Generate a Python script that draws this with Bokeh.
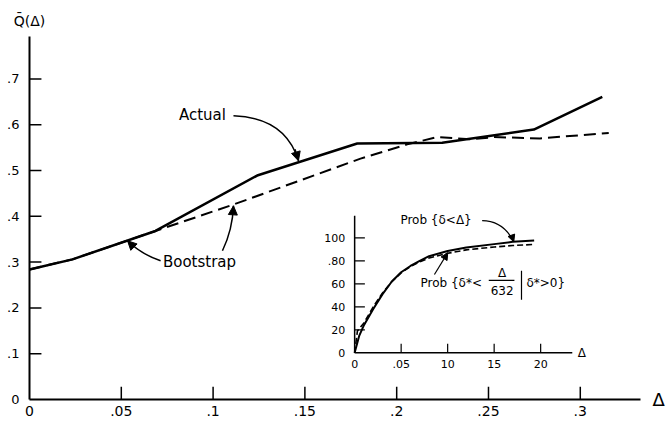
from bokeh.plotting import figure
from bokeh.models import Range1d, FixedTicker, Arrow, NormalHead, LinearAxis
from bokeh.core.properties import value
from bokeh.embed import file_html
from bokeh.resources import INLINE

# ---------------- data: main plot ----------------
actual_x = [0.0, 0.0234, 0.0686, 0.124, 0.1785, 0.2248, 0.2747, 0.312]
actual_y = [0.284, 0.306, 0.368, 0.489, 0.559, 0.5605, 0.5895, 0.661]

boot_x = [0.0, 0.0234, 0.0686, 0.1113, 0.1803, 0.2057, 0.222, 0.24, 0.253, 0.278, 0.3155]
boot_y = [0.284, 0.306, 0.368, 0.426, 0.526, 0.557, 0.573, 0.568, 0.573, 0.570, 0.582]

x_ticks = [0.0, 0.05, 0.1, 0.15, 0.2, 0.25, 0.3]
x_tick_labels = ["0", ".05", ".1", ".15", ".2", ".25", ".3"]
y_ticks = [0.0, 0.1, 0.2, 0.3, 0.4, 0.5, 0.6, 0.7]
y_tick_labels = ["0", ".1", ".2", ".3", ".4", ".5", ".6", ".7"]
y_title = "Q\u0304(\u0394)"
x_title = "\u0394"

# ---------------- data: inset ----------------
prob_x = [0, 0.5, 1, 2, 3, 4, 5, 6, 7, 8, 10, 12, 15, 17, 19.3]
prob_y = [0, 15, 24, 38, 51, 62, 70, 75.5, 80, 84, 88.5, 91.5, 94.5, 96.5, 97.7]

probstar_x = [0, 0.3, 1, 2, 3, 4, 5, 6, 7, 8, 10, 12, 15, 17, 19.3]
probstar_y = [0, 19, 26, 40, 52, 62, 69.5, 75, 79, 82.5, 86.5, 89.5, 92, 93.3, 94.2]

inset_x_ticks = [0, 5, 10, 15, 20]
inset_x_tick_labels = ["0", ".05", "10", "15", "20"]
inset_y_ticks = [0, 20, 40, 60, 80, 100]
inset_y_tick_labels = ["0", "20", "40", "60", ".80", "100"]

# ---------------- layout constants ----------------
X_END, Y_END = 0.3328, 0.7926
INSET_X0, INSET_Y0 = 0.1771, 0.102      # inset origin in main data coords
IX_PER_X, IY_PER_Y = 197.4, 398.3        # inset units per main unit
INSET_X_AXIS_END, INSET_Y_AXIS_END = 23.4, 119.1
INSET_XTICK_LEN, INSET_YTICK_LEN = 7.8, 1.1
MAIN_XTICK_LEN, MAIN_YTICK_LEN = 0.028, 0.0065

FONT = value("DejaVu Sans")

p = figure(width=667, height=422, output_backend="svg", toolbar_location=None,
           x_range=Range1d(0, X_END), y_range=Range1d(0, Y_END),
           min_border_left=29, min_border_right=27, min_border_top=36,
           min_border_bottom=23)
p.outline_line_color = None
p.grid.visible = False
p.background_fill_color = "white"
p.border_fill_color = "white"

p.extra_x_ranges = {"ix": Range1d((0 - INSET_X0) * IX_PER_X, (X_END - INSET_X0) * IX_PER_X)}
p.extra_y_ranges = {"iy": Range1d((0 - INSET_Y0) * IY_PER_Y, (Y_END - INSET_Y0) * IY_PER_Y)}

for ax in (p.xaxis[0], p.yaxis[0]):
    ax.axis_line_width = 2
    ax.axis_line_color = "black"
    ax.major_tick_in = 0
    ax.major_tick_out = 0
    ax.major_tick_line_color = None
    ax.minor_tick_line_color = None
    ax.major_label_text_font = "DejaVu Sans"
    ax.major_label_text_color = "black"

p.xaxis[0].ticker = FixedTicker(ticks=x_ticks)
p.xaxis[0].major_label_overrides = dict(zip(x_ticks, x_tick_labels))
p.xaxis[0].major_label_text_font_size = "14px"
p.xaxis[0].major_label_standoff = 6

p.yaxis[0].ticker = FixedTicker(ticks=y_ticks)
p.yaxis[0].major_label_overrides = dict(zip(y_ticks, y_tick_labels))
p.yaxis[0].major_label_text_font_size = "13px"
p.yaxis[0].major_label_standoff = 10

# title-like axes: Q(Δ) above the y axis, Δ at the end of the x axis
top_ax = LinearAxis(ticker=FixedTicker(ticks=[0.0]), major_label_overrides={0.0: y_title},
                    axis_line_color=None, major_tick_line_color=None,
                    minor_tick_line_color=None, major_label_standoff=8,
                    major_label_text_font="DejaVu Sans", major_label_text_font_size="14px",
                    major_label_text_color="black", major_tick_in=0, major_tick_out=0)
p.add_layout(top_ax, "above")
right_ax = LinearAxis(ticker=FixedTicker(ticks=[0.0]), major_label_overrides={0.0: x_title},
                      axis_line_color=None, major_tick_line_color=None,
                      minor_tick_line_color=None, major_label_standoff=12,
                      major_label_text_font="DejaVu Sans", major_label_text_font_size="18px",
                      major_label_text_color="black", major_tick_in=0, major_tick_out=0)
p.add_layout(right_ax, "right")

# inward tick marks of the main axes
xt_main = x_ticks[1:]
p.segment(x0=xt_main, y0=[0] * len(xt_main), x1=xt_main, y1=[MAIN_XTICK_LEN] * len(xt_main),
          line_color="black", line_width=1.5)
yt_main = y_ticks[1:]
p.segment(x0=[0] * len(yt_main), y0=yt_main, x1=[MAIN_YTICK_LEN] * len(yt_main), y1=yt_main,
          line_color="black", line_width=1.5)

# main curves
p.line(actual_x, actual_y, line_color="black", line_width=2.5)
p.line(boot_x, boot_y, line_color="black", line_width=2, line_dash="12 6")

# main annotations
p.text(x=[0.0942], y=[0.6216], text=["Actual"], text_font=FONT,
       text_font_size=value("15px"), text_align="center", text_baseline="middle",
       text_color="black")
p.text(x=[0.0926], y=[0.3006], text=["Bootstrap"], text_font=FONT,
       text_font_size=value("15px"), text_align="center", text_baseline="middle",
       text_color="black")

arrow_x0 = [0.1111, 0.0714, 0.1051]
arrow_y0 = [0.6194, 0.3028, 0.3247]
arrow_cx = [0.1394, 0.0605, 0.1106]
arrow_cy = [0.6151, 0.3181, 0.3705]
arrow_x1 = [0.1465, 0.0534, 0.1111]
arrow_y1 = [0.5212, 0.3465, 0.4229]
head_x0 = [0.1446, 0.0556, 0.1108]
head_y0 = [0.5463, 0.3378, 0.4055]
p.quadratic(x0=arrow_x0, y0=arrow_y0, x1=arrow_x1, y1=arrow_y1, cx=arrow_cx, cy=arrow_cy,
            line_color="black", line_width=1.5)
for xs, ys, xe, ye in zip(head_x0, head_y0, arrow_x1, arrow_y1):
    p.add_layout(Arrow(x_start=xs, y_start=ys, x_end=xe, y_end=ye, line_width=1.5,
                       end=NormalHead(size=9, fill_color="black", line_color="black")))

# ---------------- inset ----------------
I = dict(x_range_name="ix", y_range_name="iy")
p.segment(x0=[0, 0], y0=[0, 0], x1=[INSET_X_AXIS_END, 0], y1=[0, INSET_Y_AXIS_END],
          line_color="black", line_width=1.5, **I)
xt = inset_x_ticks[1:]
p.segment(x0=xt, y0=[0] * len(xt), x1=xt, y1=[INSET_XTICK_LEN] * len(xt),
          line_color="black", line_width=1.2, **I)
yt = inset_y_ticks[1:]
p.segment(x0=[0] * len(yt), y0=yt, x1=[INSET_YTICK_LEN] * len(yt), y1=yt,
          line_color="black", line_width=1.2, **I)
p.text(x=inset_x_ticks, y=[-9.6] * len(inset_x_ticks), text=inset_x_tick_labels,
       text_font=FONT, text_font_size=value("11px"), text_align="center",
       text_baseline="middle", text_color="black", **I)
p.text(x=[-1.0] * len(inset_y_ticks), y=inset_y_ticks, text=inset_y_tick_labels,
       text_font=FONT, text_font_size=value("11px"), text_align="right",
       text_baseline="middle", text_color="black", **I)
p.text(x=[24.0], y=[0], text=["\u0394"], text_font=FONT, text_font_size=value("12px"),
       text_align="left", text_baseline="middle", text_color="black", **I)

p.line(prob_x, prob_y, line_color="black", line_width=2, **I)
p.line(probstar_x, probstar_y, line_color="black", line_width=1.6, line_dash="6 3", **I)

p.text(x=[4.92], y=[115.2], text=["Prob {\u03b4<\u0394}"], text_font=FONT,
       text_font_size=value("12px"), text_align="left", text_baseline="middle",
       text_color="black", **I)
p.quadratic(x0=[13.71], y0=[115.0], x1=[17.11], y1=[96.5], cx=[16.0], cy=[114.8],
            line_color="black", line_width=1.2, **I)
p.add_layout(Arrow(x_start=16.91, y_start=100.9, x_end=17.11, y_end=96.5, line_width=1.2,
                   end=NormalHead(size=7, fill_color="black", line_color="black"), **I))

p.text(x=[7.08], y=[60.3], text=["Prob {\u03b4*<"], text_font=FONT,
       text_font_size=value("12px"), text_align="left", text_baseline="middle",
       text_color="black", **I)
p.text(x=[15.86], y=[69.1], text=["\u0394"], text_font=FONT,
       text_font_size=value("12px"), text_align="center", text_baseline="middle",
       text_color="black", **I)
p.text(x=[15.86], y=[54.3], text=["632"], text_font=FONT,
       text_font_size=value("12px"), text_align="center", text_baseline="middle",
       text_color="black", **I)
p.segment(x0=[14.42, 17.94], y0=[62.9, 71.3], x1=[17.18, 17.94], y1=[62.9, 46.1],
          line_color="black", line_width=1.2, **I)
p.text(x=[18.47], y=[60.3], text=["\u03b4*>0}"], text_font=FONT,
       text_font_size=value("12px"), text_align="left", text_baseline="middle",
       text_color="black", **I)
p.add_layout(Arrow(x_start=8.58, y_start=68.1, x_end=10.01, y_end=87.0, line_width=1.2,
                   end=NormalHead(size=7, fill_color="black", line_color="black"), **I))

open("out.html", "w").write(file_html(p, INLINE))
